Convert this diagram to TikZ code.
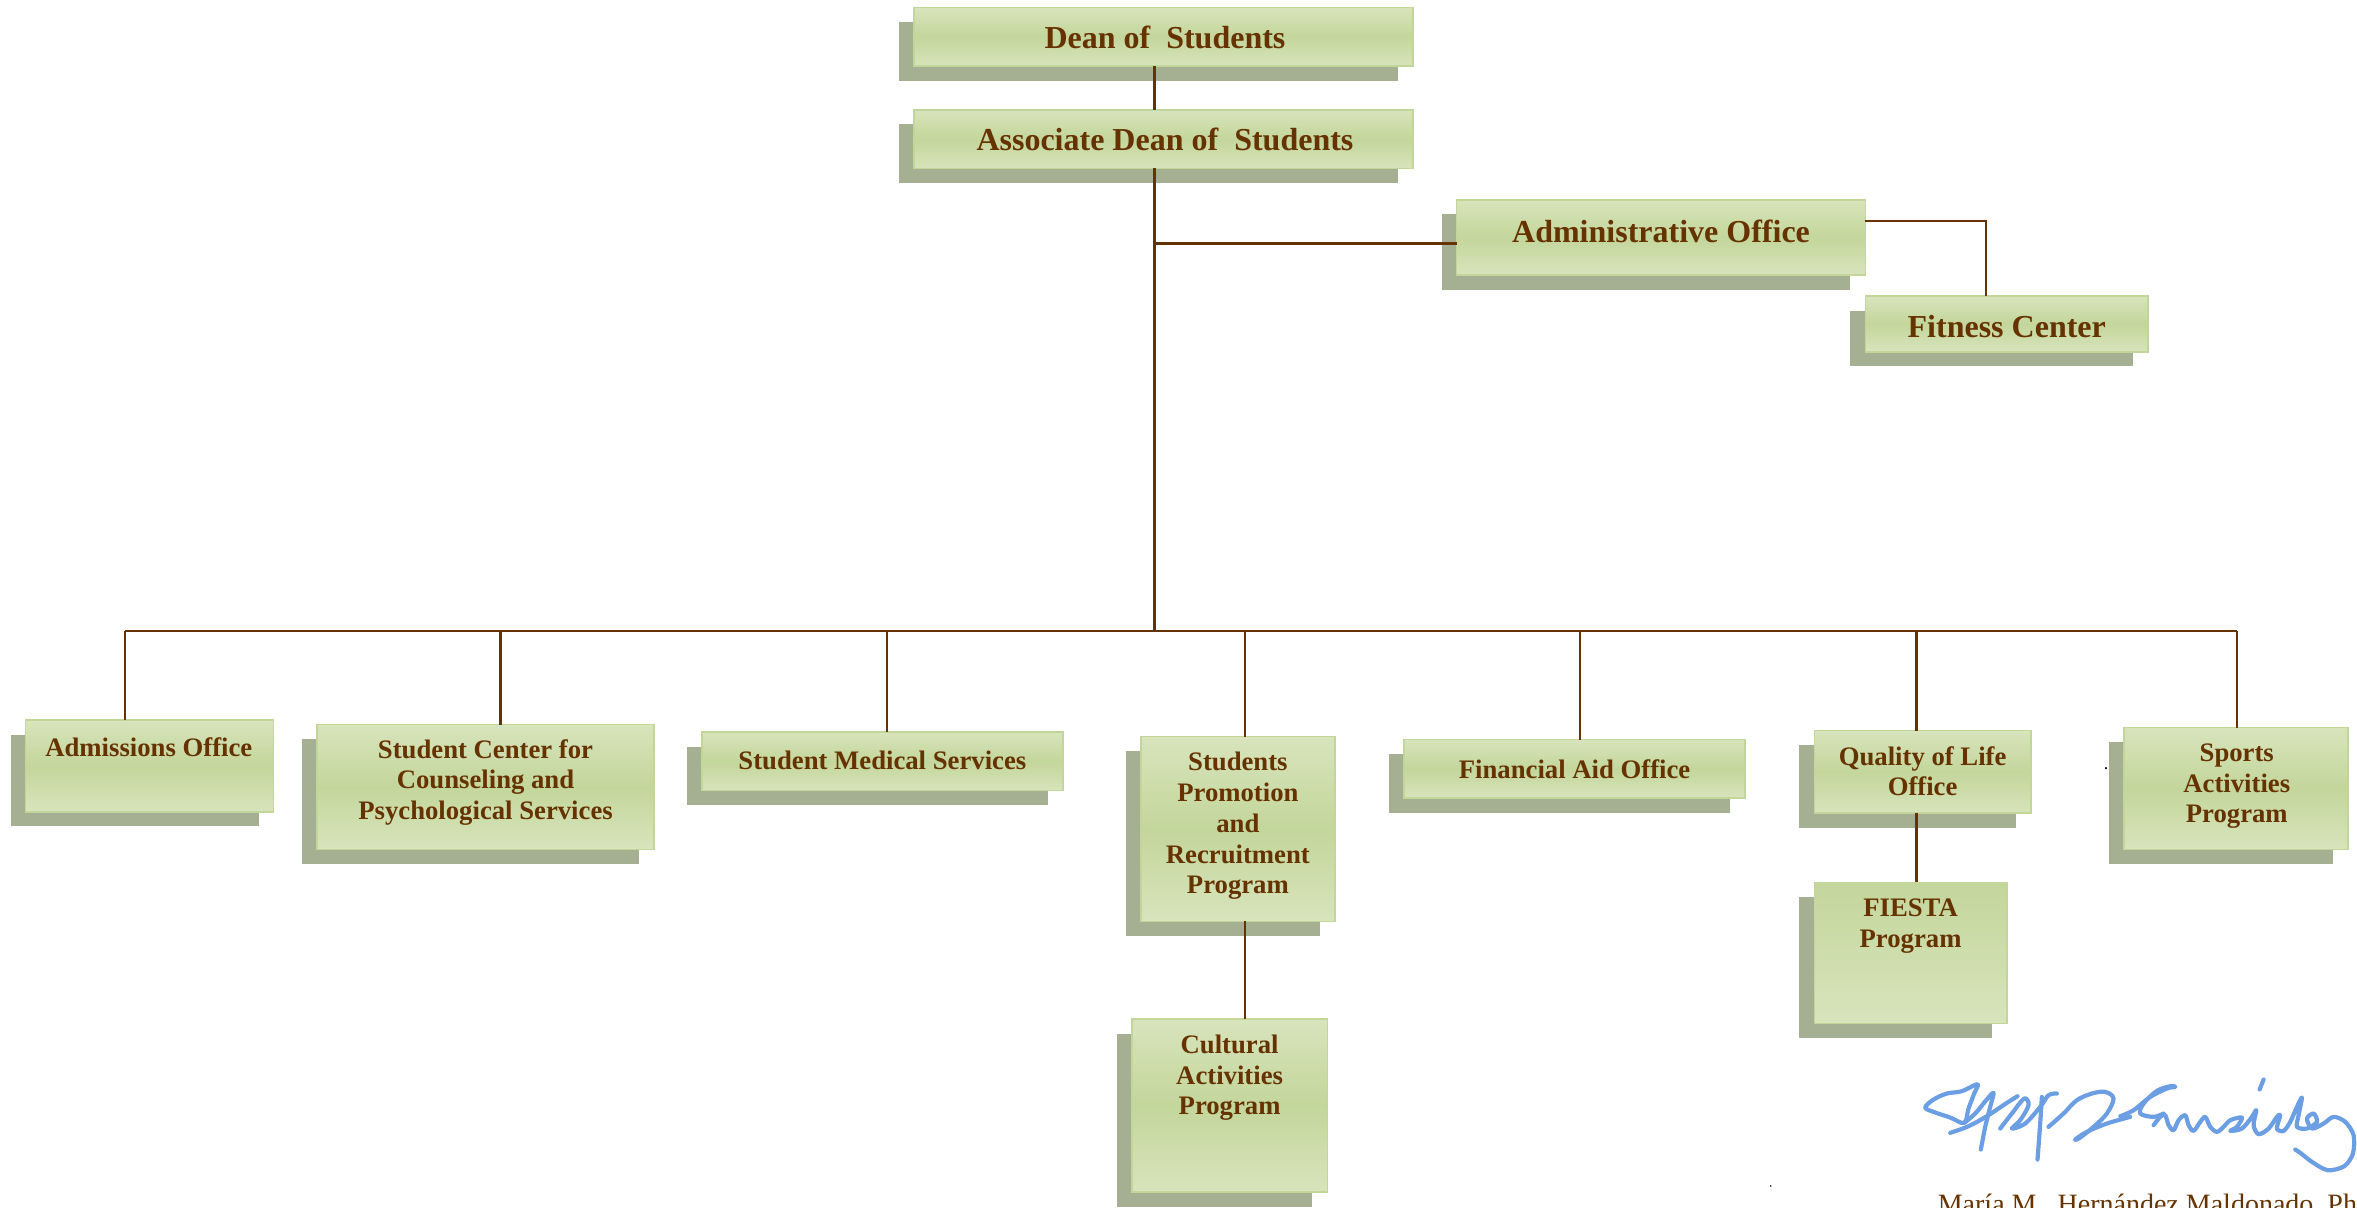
\documentclass[tikz,border=0pt]{standalone}
\usepackage{fontspec}
\setmainfont{Liberation Serif}
\usetikzlibrary{shadows,calc}

\definecolor{boxlight}{RGB}{216,228,188}
\definecolor{boxmid}{RGB}{195,214,155}
\definecolor{boxedge}{RGB}{194,214,154}
\definecolor{boxshadow}{RGB}{165,176,146}
\definecolor{ink}{RGB}{102,51,0}
\definecolor{sigblue}{RGB}{108,158,228}

\tikzset{
  orgbox/.style={draw=boxedge, line width=1.6pt, inner sep=0pt, outer sep=0pt,
    top color=boxlight, bottom color=boxlight, middle color=boxmid,
    drop shadow={shadow xshift=-15pt, shadow yshift=-14.5pt, fill=boxshadow, opacity=1}},
  topshade/.style={top color=boxmid, bottom color=boxlight},
  toplbl/.style={text=ink, font=\bfseries\fontsize{32}{36}\selectfont, inner sep=0pt},
  lbl/.style={text=ink, font=\bfseries\fontsize{26.7}{30.7}\selectfont, align=center, inner sep=0pt},
  link/.style={draw=ink, line width=2.3pt},
  sig/.style={draw=sigblue, line width=4.2pt, line cap=round, line join=round},
}

% box from its corners (x1,y1)-(x2,y2), in picture units
\newcommand\orgnode[6][]{%
  \node[orgbox,#1, minimum width={(#5-#3)*1.503pt}, minimum height={(#6-#4)*1.503pt}]
    (#2) at ({(#3+#5)/2},{(#4+#6)/2}) {};}

\begin{document}
\begin{tikzpicture}[x=1.503pt, y=-1.503pt]
\useasboundingbox (0,0) rectangle (1568,803);
\clip (0,0) rectangle (1568,803);

% ---- boxes ----
\orgnode{dean}{608}{5}{940}{44}
\orgnode{assoc}{608}{73}{940}{112}
\orgnode{admin}{969}{133}{1241}{183}
\orgnode{fitness}{1241}{197}{1429}{234}
\orgnode{adm}{17}{479}{182}{540}
\orgnode{couns}{211}{482}{435}{565}
\orgnode{med}{467}{487}{707}{526}
\orgnode{promo}{759}{490}{888}{613}
\orgnode{cultural}{753}{678}{883}{793}
\orgnode{fin}{934}{492}{1161}{531}
\orgnode{qual}{1207}{486}{1351}{541}
\orgnode[topshade]{fiesta}{1207}{587}{1335}{681}
\orgnode{sports}{1413}{484}{1562}{565}

% ---- labels ----
\node[toplbl] (tdean) at (775,25) {Dean of\ \ Students};
\node[toplbl] (tassoc) at (775,93) {Associate Dean of\ \ Students};
\node[toplbl] (tadmin) at (1105,154) {Administrative Office};
\node[toplbl] (tfit) at (1335,217) {Fitness Center};
\node[lbl] (tadm) at (99,497) {Admissions Office};
\node[lbl] (tcouns) at (323,520.5) {Student Center for\\Counseling and\\Psychological Services};
\node[lbl] (tmed) at (587,506) {Student Medical Services};
\node[lbl] (tpromo) at (823.5,549.5) {Students\\Promotion\\and\\Recruitment\\Program};
\node[lbl] (tcult) at (818,717) {Cultural\\Activities\\Program};
\node[lbl] (tfin) at (1047.5,512) {Financial Aid Office};
\node[lbl] (tqual) at (1279,513) {Quality of Life\\Office};
\node[lbl] (tfiesta) at (1271,616) {FIESTA\\Program};
\node[lbl] (tsports) at (1488,523) {Sports\\Activities\\Program};

% ---- connectors ----
\coordinate (spine) at (768,0);
\coordinate (bus) at (768,420);
\draw[link] (dean.south -| spine) -- (assoc.north -| spine);
\draw[link] (assoc.south -| spine) -- (bus);

\coordinate (adminin) at ($(admin.west)+(0,4)$);
\draw[link] (adminin) -- (adminin -| spine);
\coordinate (adminout) at ($(admin.east)+(0,-11)$);
\coordinate (fitin) at ($(fitness.north)+(-14,0)$);
\draw[link] (adminout) -| (fitin);

\coordinate (admdrop) at ($(adm.north)+(-16.5,0)$);
\coordinate (counsdrop) at ($(couns.north)+(10,0)$);
\coordinate (meddrop) at ($(med.north)+(3,0)$);
\coordinate (promodrop) at ($(promo.north)+(4.5,0)$);
\coordinate (findrop) at ($(fin.north)+(3.5,0)$);
\coordinate (qualdrop) at ($(qual.north)+(-4,0)$);
\coordinate (sportsdrop) at ($(sports.north)+(0.5,0)$);

\draw[link] (admdrop |- bus) -- (sportsdrop |- bus);
\foreach \d in {admdrop,counsdrop,meddrop,promodrop,findrop,qualdrop,sportsdrop}
  \draw[link] (\d) -- (\d |- bus);
\draw[link] (promo.south -| promodrop) -- (cultural.north -| promodrop);
\draw[link] (qual.south -| qualdrop) -- (fiesta.north -| qualdrop);

% ---- stray marks ----
\fill[black] (1401,511) circle (0.8);
\fill[black] (1178,789) circle (0.6);

% ---- signature, left half (units of 1/3 pt) ----
\begin{scope}[shift={(1264.1,705.3)}, x=0.3333pt, y=-0.3333pt]
  \draw[sig] plot[smooth cycle, tension=0.55] coordinates {(75,142) (100,118) (140,100) (185,93) (232,72) (222,100) (205,145) (192,188) (150,172) (100,155)};
  \draw[sig] plot[smooth, tension=0.55] coordinates {(192,188) (225,160) (258,120) (280,98) (270,140) (255,200) (242,268)};
  \draw[sig] plot[smooth, tension=0.55] coordinates {(150,218) (205,198) (260,168) (320,128) (352,108)};
  \draw[sig] plot[smooth, tension=0.55] coordinates {(300,205) (335,160) (372,115) (385,135) (360,180) (335,205) (375,190) (420,140) (445,105) (470,100)};
  \draw[sig] plot[smooth, tension=0.55] coordinates {(425,110) (420,190) (412,298)};
  \draw[sig] plot[smooth, tension=0.55] coordinates {(445,200) (490,160) (530,120) (575,100) (615,95) (640,115) (620,160) (580,200) (540,232) (525,238) (560,215) (620,190) (690,170)};
\end{scope}

% ---- signature, right half ----
\begin{scope}[shift={(1410.5,705.3)}, x=0.3333pt, y=-0.3333pt]
  \draw[sig] plot[smooth, tension=0.55] coordinates {(0,168) (40,150) (90,110) (140,85) (165,80) (150,78) (110,92) (70,130) (60,160) (100,170) (130,160)};
  \draw[sig] plot[smooth, tension=0.5] coordinates {(100,195) (120,170) (135,165) (145,195) (160,210) (175,180) (195,165) (205,195) (220,212) (240,185) (255,170) (270,200) (290,215) (310,200) (330,180) (365,172) (350,200) (330,212) (365,205) (395,170) (408,150) (400,195) (415,222) (445,205) (470,170) (480,165) (470,205) (490,212) (510,185) (530,140) (545,112) (535,165) (530,200) (560,205) (590,185) (580,160) (560,175) (575,205) (610,190) (640,170) (675,185) (700,225) (698,280) (672,318) (622,330) (575,305) (540,278) (525,268)};
  \draw[sig] (418,88) -- (430,58);
\end{scope}

% ---- name under the signature ----
\node[anchor=base west, text=ink, font=\fontsize{28}{32}\selectfont, inner sep=0pt]
  (signame) at (1289,807.6) {María M.\ \ Hernández Maldonado, Ph.D.};
\end{tikzpicture}
\end{document}
